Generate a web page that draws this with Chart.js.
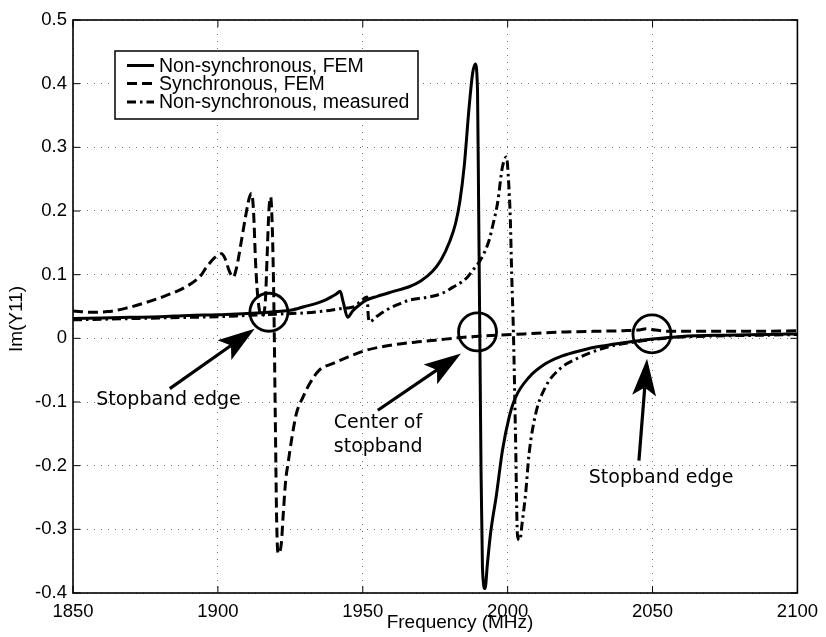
<!DOCTYPE html>
<html>
<head>
<meta charset="utf-8">
<script src="https://cdn.jsdelivr.net/npm/chart.js@4.4.1/dist/chart.umd.min.js"></script>
<style>
  html, body { margin: 0; padding: 0; background: #fff; }
  #wrap { width: 826px; height: 637px; }
</style>
</head>
<body>
<div id="wrap"><canvas id="chart" width="826" height="637"></canvas></div>
<script>
// Im(Y11) against frequency: non-synchronous / synchronous FEM and measured

const xTicks = [1850, 1900, 1950, 2000, 2050, 2100]
const yTicks = [-0.4, -0.3, -0.2, -0.1, 0, 0.1, 0.2, 0.3, 0.4, 0.5]

const nsFemFreq = [1850, 1860, 1870, 1880, 1890, 1900, 1910, 1915, 1920, 1925, 1930, 1934, 1937, 1939.5, 1941, 1942.2,
  1943.2, 1944.8, 1946.5, 1949, 1951.2, 1955, 1960, 1966, 1970, 1974, 1977, 1980, 1982, 1983.5, 1985, 1986.7, 1987.9,
  1988.8, 1989.6, 1990.0, 1990.4, 1990.8, 1991.3, 1992.2, 1993, 1994, 1995, 1996, 1998.2, 2000.5, 2002.8, 2007.4,
  2013, 2018, 2023.4, 2030, 2037, 2043, 2050, 2060, 2075, 2090, 2100]
const nsFemIm = [0.031, 0.032, 0.033, 0.034, 0.036, 0.037, 0.039, 0.040, 0.042, 0.044, 0.050, 0.055, 0.060, 0.066, 0.070, 0.074,
  0.058, 0.033, 0.043, 0.053, 0.060, 0.066, 0.073, 0.081, 0.090, 0.105, 0.123, 0.152, 0.180, 0.215, 0.270, 0.363, 0.416,
  0.431, 0.390, 0.200, 0.000, -0.200, -0.360, -0.393, -0.355, -0.310, -0.278, -0.250, -0.176, -0.124, -0.092, -0.061,
  -0.040, -0.029, -0.0215, -0.014, -0.009, -0.005, -0.001, 0.003, 0.005, 0.006, 0.007]

const syncFemFreq = [1850, 1856, 1862, 1868, 1875, 1882, 1889, 1894, 1896.1, 1899, 1901.3, 1902.5, 1904, 1905.3, 1906.5,
  1908, 1909.5, 1910.8, 1911.6, 1912.3, 1913.0, 1913.5, 1914.3, 1915.3, 1916.4, 1917.0, 1917.6, 1918.2, 1918.8, 1919.3,
  1919.8, 1920.3, 1920.8, 1921.9, 1922.5, 1923.4, 1924.2, 1925.4, 1927.1, 1929.4, 1931.7, 1935, 1940, 1945, 1951, 1958,
  1968, 1975, 1983, 1992, 2001.6, 2010, 2020, 2030, 2040, 2045, 2048, 2051, 2056, 2070, 2085, 2100]
const syncFemIm = [0.043, 0.041, 0.042, 0.047, 0.056, 0.067, 0.081, 0.098, 0.112, 0.127, 0.133, 0.125, 0.105, 0.096, 0.112,
  0.150, 0.190, 0.220, 0.228, 0.200, 0.120, 0.080, 0.045, 0.035, 0.060, 0.130, 0.200, 0.222, 0.170, 0.060,
  -0.120, -0.290, -0.338, -0.322, -0.280, -0.223, -0.197, -0.160, -0.118, -0.092, -0.071, -0.050, -0.039, -0.029, -0.019, -0.012,
  -0.006, -0.003, 0.001, 0.004, 0.006, 0.008, 0.010, 0.011, 0.012, 0.013, 0.015, 0.013, 0.011, 0.011, 0.011, 0.012]

const nsMeasFreq = [1850, 1860, 1870, 1880, 1890, 1900, 1910, 1920, 1930, 1937, 1943, 1946.5, 1949, 1951.5, 1951.9, 1952.3,
  1955, 1958, 1962, 1966, 1970, 1974, 1978, 1981, 1984, 1986.1, 1988, 1990.2, 1992, 1993.6, 1995, 1996.5, 1998.2, 1999.6,
  2000.3, 2000.9, 2001.4, 2002, 2002.7, 2003.4, 2004.2, 2005, 2006.2, 2007.4, 2009.7, 2013.1, 2018, 2023.4, 2030, 2035,
  2042, 2050, 2060, 2075, 2090, 2100]
const nsMeasIm = [0.029, 0.030, 0.031, 0.032, 0.033, 0.034, 0.036, 0.038, 0.040, 0.043, 0.047, 0.049, 0.057, 0.065, 0.035, 0.026,
  0.035, 0.044, 0.053, 0.060, 0.063, 0.066, 0.072, 0.080, 0.088, 0.096, 0.107, 0.120, 0.135, 0.154, 0.180, 0.212, 0.269, 0.285,
  0.248, 0.190, 0.100, 0.008, -0.150, -0.310, -0.317, -0.290, -0.244, -0.181, -0.118, -0.076, -0.048, -0.033, -0.020, -0.013,
  -0.007, -0.002, 0.002, 0.004, 0.005, 0.006]

// circled regions, arrows and their captions, in (MHz, Im(Y11))
const circleAt = [[1917.6, 0.041], [1989.6, 0.010], [2049.8, 0.007]]
const arrowFrom = [[1883.4, -0.079], [1955.2, -0.113], [2045.3, -0.192]]
const arrowTo = [[1912.7, 0.015], [1983.9, -0.024], [2048.1, -0.032]]
const noteText = [['Stopband edge'], ['Center of', 'stopband'], ['Stopband edge']]
const noteAt = [[1858, -0.097], [1940, -0.133], [2028, -0.220]]

const toPoints = ( xs, ys ) => xs.map( ( x, i ) => ( { x, y: ys[ i ] } ) )

const sansFont = '"Liberation Sans", Arial, Helvetica, sans-serif'

Chart.defaults.color = '#000'
Chart.defaults.font.family = sansFont

const framePlugin = {
  id: 'frame',
  afterDatasetsDraw( chart ) {
    const { ctx, chartArea: a, scales } = chart
    ctx.save()
    ctx.strokeStyle = '#000'
    ctx.lineWidth = 1.6
    ctx.setLineDash( [] )
    ctx.strokeRect( a.left, a.top, a.right - a.left, a.bottom - a.top )
    ctx.lineWidth = 1
    ctx.beginPath()
    xTicks.forEach( v => {
      const px = scales.x.getPixelForValue( v )
      ctx.moveTo( px, a.bottom ); ctx.lineTo( px, a.bottom - 7 )
      ctx.moveTo( px, a.top ); ctx.lineTo( px, a.top + 7 )
    } )
    yTicks.forEach( v => {
      const py = scales.y.getPixelForValue( v )
      ctx.moveTo( a.left, py ); ctx.lineTo( a.left + 7, py )
      ctx.moveTo( a.right, py ); ctx.lineTo( a.right - 7, py )
    } )
    ctx.stroke()
    ctx.restore()
  }
}

const notesPlugin = {
  id: 'notes',
  afterDatasetsDraw( chart ) {
    const { ctx, scales: { x, y } } = chart
    const px = p => [ x.getPixelForValue( p[ 0 ] ), y.getPixelForValue( p[ 1 ] ) ]
    ctx.save()
    ctx.strokeStyle = '#000'
    ctx.fillStyle = '#000'
    ctx.setLineDash( [] )

    ctx.lineWidth = 2.8
    circleAt.forEach( c => {
      const [ cx, cy ] = px( c )
      ctx.beginPath()
      ctx.arc( cx, cy, 19, 0, Math.PI * 2 )
      ctx.stroke()
    } )

    arrowFrom.forEach( ( f, i ) => {
      const [ x0, y0 ] = px( f )
      const [ x1, y1 ] = px( arrowTo[ i ] )
      const len = Math.hypot( x1 - x0, y1 - y0 )
      const ux = ( x1 - x0 ) / len, uy = ( y1 - y0 ) / len
      const nx = -uy, ny = ux
      const head = 37, half = 12, notch = 29
      const bx = x1 - ux * head, by = y1 - uy * head
      const mx = x1 - ux * notch, my = y1 - uy * notch
      ctx.lineWidth = 3.2
      ctx.beginPath()
      ctx.moveTo( x0, y0 ); ctx.lineTo( mx, my )
      ctx.stroke()
      ctx.beginPath()
      ctx.moveTo( x1, y1 )
      ctx.lineTo( bx + nx * half, by + ny * half )
      ctx.lineTo( mx, my )
      ctx.lineTo( bx - nx * half, by - ny * half )
      ctx.closePath()
      ctx.fill()
    } )

    ctx.font = '19px "DejaVu Sans", Verdana, sans-serif'
    ctx.textBaseline = 'middle'
    ctx.textAlign = 'left'
    noteText.forEach( ( lines, i ) => {
      const [ tx, ty ] = px( noteAt[ i ] )
      lines.forEach( ( s, k ) => ctx.fillText( s, tx, ty + k * 24 ) )
    } )
    ctx.restore()
  }
}

const legendPlugin = {
  id: 'boxLegend',
  afterDraw( chart ) {
    const { ctx, chartArea: a } = chart
    const x0 = a.left + 42, y0 = a.top + 31
    ctx.save()
    ctx.fillStyle = '#fff'
    ctx.fillRect( x0, y0, 303, 68 )
    ctx.strokeStyle = '#000'
    ctx.lineWidth = 1.5
    ctx.strokeRect( x0, y0, 303, 68 )
    ctx.font = '19.5px ' + sansFont
    ctx.textBaseline = 'middle'
    ctx.fillStyle = '#000'
    const rows = [ 14.5, 32.5, 51 ]
    chart.data.datasets.forEach( ( ds, i ) => {
      const ry = y0 + rows[ i ]
      ctx.lineWidth = ds.borderWidth
      ctx.setLineDash( ds.borderDash || [] )
      ctx.beginPath()
      ctx.moveTo( x0 + 12, ry ); ctx.lineTo( x0 + 39, ry )
      ctx.stroke()
      ctx.setLineDash( [] )
      ctx.fillText( ds.label, x0 + 44, ry + 1 )
    } )
    ctx.restore()
  }
}

const titlesPlugin = {
  id: 'axisTitles',
  afterDraw( chart ) {
    const { ctx } = chart
    ctx.save()
    ctx.fillStyle = '#000'
    ctx.font = '19px ' + sansFont
    ctx.textAlign = 'center'
    ctx.textBaseline = 'middle'
    ctx.fillText( 'Frequency (MHz)', 460, 623 )
    ctx.translate( 17, 319 )
    ctx.rotate( -Math.PI / 2 )
    ctx.fillText( 'Im(Y11)', 0, 0 )
    ctx.restore()
  }
}

const lineStyle = { borderColor: '#000', borderWidth: 3, pointRadius: 0, fill: false, cubicInterpolationMode: 'monotone' }

new Chart( document.getElementById( 'chart' ), {
  type: 'line',
  data: {
    datasets: [
      { ...lineStyle, label: 'Non-synchronous, FEM', data: toPoints( nsFemFreq, nsFemIm ) },
      { ...lineStyle, label: 'Synchronous, FEM', data: toPoints( syncFemFreq, syncFemIm ), borderDash: [ 10, 5 ] },
      { ...lineStyle, label: 'Non-synchronous, measured', data: toPoints( nsMeasFreq, nsMeasIm ), borderDash: [ 9, 4, 2.5, 4 ] }
    ]
  },
  options: {
    responsive: false,
    animation: false,
    devicePixelRatio: 1,
    layout: { padding: { left: 0, right: 27, top: 20, bottom: 0 } },
    plugins: { legend: { display: false }, tooltip: { enabled: false } },
    scales: {
      x: {
        type: 'linear',
        min: xTicks[ 0 ],
        max: xTicks[ xTicks.length - 1 ],
        afterFit: s => { s.height = 44 },
        afterBuildTicks: s => { s.ticks = xTicks.map( value => ( { value } ) ) },
        ticks: { padding: 8, maxRotation: 0, autoSkip: false, font: { size: 18.5 }, callback: v => String( v ) },
        grid: { color: 'rgba(0,0,0,0.55)', lineWidth: 1, drawTicks: false },
        border: { display: false, dash: [ 1, 6 ] }
      },
      y: {
        min: yTicks[ 0 ],
        max: yTicks[ yTicks.length - 1 ],
        afterFit: s => { s.width = 73 },
        afterBuildTicks: s => { s.ticks = yTicks.map( value => ( { value } ) ) },
        ticks: { padding: 6, autoSkip: false, font: { size: 18.5 }, callback: v => String( +v.toFixed( 1 ) ) },
        grid: { color: 'rgba(0,0,0,0.55)', lineWidth: 1, drawTicks: false },
        border: { display: false, dash: [ 1, 6 ] }
      }
    }
  },
  plugins: [ framePlugin, notesPlugin, legendPlugin, titlesPlugin ]
} )
</script>
</body>
</html>
